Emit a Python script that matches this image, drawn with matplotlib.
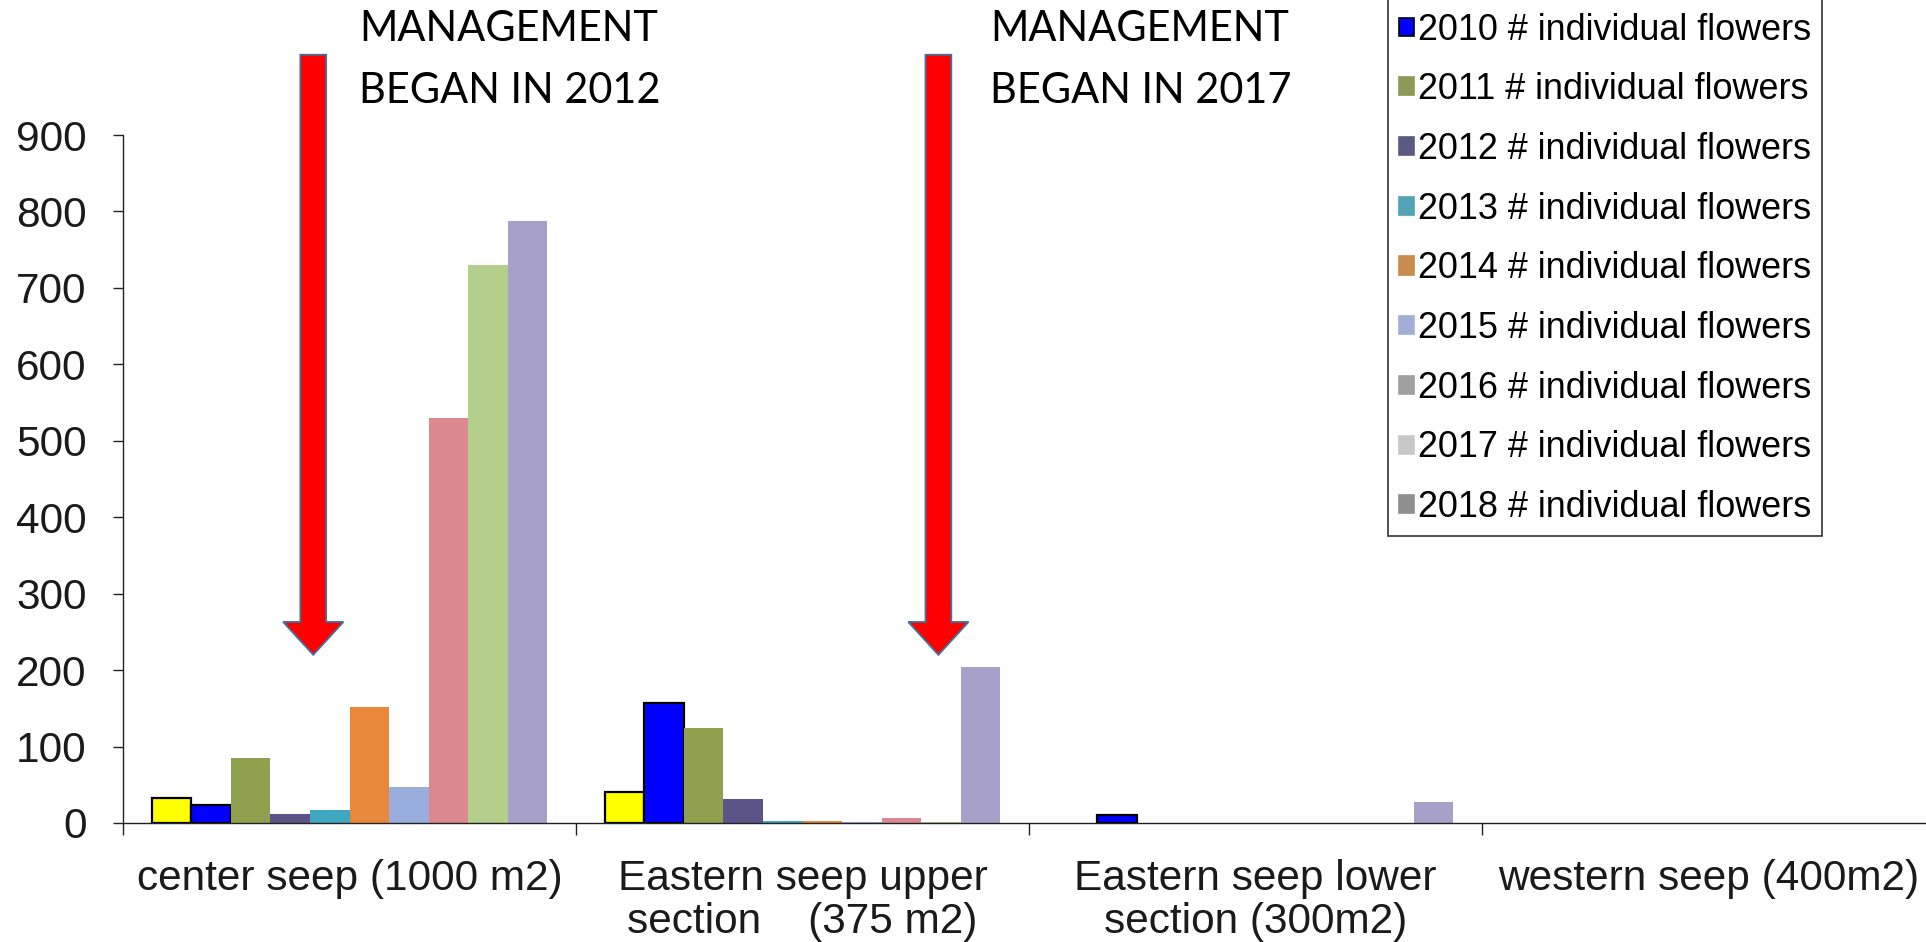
import matplotlib.pyplot as plt
from matplotlib.patches import FancyArrow, Patch
import numpy as np

# ---------------- data ----------------
categories = [
    "center seep (1000 m2)",
    "Eastern seep upper\nsection    (375 m2)",
    "Eastern seep lower\nsection (300m2)",
    "western seep (400m2)",
]
years = [2009, 2010, 2011, 2012, 2013, 2014, 2015, 2016, 2017, 2018]

# flowers per category, one value per year (2009..2018)
center_seep = [33, 24, 85, 12, 17, 152, 47, 530, 730, 788]
eastern_upper = [41, 157, 124, 32, 2, 2, 1, 7, 1, 204]
eastern_lower = [0, 10, 0, 0, 0, 0, 0, 0, 0, 28]
western_seep = [0, 0, 0, 0, 0, 0, 0, 0, 0, 0]

bar_colors = ["#FFFF00", "#0000FF", "#8FA04E", "#5C5488", "#3FA7C2",
              "#E8883A", "#99AEDD", "#DC8890", "#B4CF8C", "#A7A0C8"]
edge_colors = ["black", "black"] + ["none"] * 8
# legend swatches in the picture are washed out / greyish
legend_colors = ["#FFFF00", "#0000FF", "#8C9A58", "#5B5B82", "#52A3B5",
                 "#C98A4E", "#A3AED6", "#A0A0A0", "#C8C8C8", "#8F8F8F"]

notes = ["MANAGEMENT\nBEGAN IN 2012", "MANAGEMENT\nBEGAN IN 2017"]
note_x = [-0.08, 1.30]     # arrow position in category units
note_tip = 220

# ---------------- figure ----------------
W, H, DPI = 1926, 942, 100
plt.rcParams['font.family'] = ['Liberation Sans', 'DejaVu Sans']

fig = plt.figure(figsize=(W / DPI, H / DPI), dpi=DPI)
ax = fig.add_axes([123 / W, 119 / H, 1812 / W, 688 / H])

values = np.array([center_seep, eastern_upper, eastern_lower, western_seep])
x = np.arange(len(categories))
w = 0.0872
for i, yr in enumerate(years):
    vals = values[:, i]
    # no outline on empty bars
    lw = np.where(vals > 0, 1.6, 0)
    ax.bar(x + (i - 4.5) * w, vals, width=w, color=bar_colors[i],
           edgecolor=edge_colors[i], linewidth=lw, zorder=2)

ax.set_xlim(-0.5, len(categories) - 0.5)
ax.set_ylim(0, 900)
ax.set_yticks(range(0, 901, 100))
ax.set_xticks(x)
ax.set_xticklabels(categories, linespacing=1.1)
ax.set_xticks(np.arange(-0.5, len(categories), 1), minor=True)

for s in ["top", "right"]:
    ax.spines[s].set_visible(False)
for s in ["left", "bottom"]:
    ax.spines[s].set_linewidth(1.0)
    ax.spines[s].set_color("#222222")

ax.tick_params(axis="y", direction="out", length=7.2, width=1.0, pad=19,
               labelsize=30.5, labelcolor="#1a1a1a", color="#222222")
ax.tick_params(axis="x", which="major", length=0, pad=26, labelsize=30.5,
               labelcolor="#1a1a1a")
ax.tick_params(axis="x", which="minor", direction="out", length=8.6,
               width=1.0, color="#222222")

# ---------------- legend ----------------
# the 2009 entry sits above the top edge, as in the original screenshot
handles = [Patch(facecolor=c, edgecolor=e if e != "none" else c, linewidth=1.2)
           for c, e in zip(legend_colors, edge_colors)]
labels = [f"{y} # individual flowers" for y in years]
leg = fig.legend(handles, labels, loc="lower left",
                 bbox_to_anchor=(1388 / W, 1 - 536 / H),
                 bbox_transform=fig.transFigure, borderaxespad=0,
                 frameon=True, fancybox=False, fontsize=25.9,
                 handlelength=0.42, handleheight=0.4, handletextpad=0.12,
                 labelspacing=0.687, borderpad=0.3)
leg.get_frame().set_edgecolor("black")
leg.get_frame().set_linewidth(1.2)

# ---------------- management arrows ----------------
text_left = [359, 990]
for k, (txt, xa) in enumerate(zip(notes, note_x)):
    arr = FancyArrow(xa, 1005, 0, note_tip - 1005, width=0.057,
                     head_width=0.133, head_length=43,
                     length_includes_head=True, facecolor="#FF0000",
                     edgecolor="#41719C", linewidth=1.3, clip_on=False,
                     zorder=5)
    ax.add_patch(arr)
    line1, line2 = txt.split("\n")
    fig.text(text_left[k] / W, 1 - 41 / H, line1, family=["Lato", "DejaVu Sans"],
             fontsize=29.9, ha="left", va="baseline", color="black")
    fig.text(text_left[k] / W, 1 - 103 / H, line2, family=["Lato", "DejaVu Sans"],
             fontsize=29.9, ha="left", va="baseline", color="black")

fig.savefig("out.png", dpi=DPI)
